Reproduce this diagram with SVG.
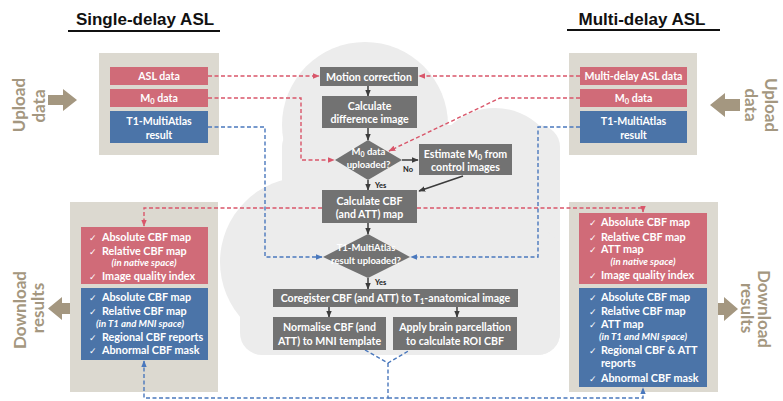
<svg xmlns="http://www.w3.org/2000/svg" width="783" height="401" viewBox="0 0 783 401">
<defs>
<style>
.panel{fill:#dcd9d0}
.red{fill:#d06b78}
.blue{fill:#4b74a8}
.node{fill:#727272}
.cloud{fill:#ececec}
.t{font-family:Lato,'Open Sans',sans-serif;font-weight:bold;fill:#fff;font-size:10.6px;text-anchor:middle}
.d{font-size:9.5px}
.li{font-family:Lato,'Open Sans',sans-serif;font-weight:bold;fill:#fff;font-size:10.8px}
.it{font-family:Lato,'Open Sans',sans-serif;font-weight:bold;font-style:italic;fill:#fff;font-size:9.6px;text-anchor:middle}
.ck{font-family:'DejaVu Sans',sans-serif;font-size:9px;fill:#fff}
.side{font-family:Lato,'Open Sans',sans-serif;font-weight:bold;font-size:17px;fill:#a49780;text-anchor:middle}
.title{font-family:'Liberation Sans',Arial,sans-serif;font-weight:bold;font-size:17px;fill:#111;text-anchor:middle}
.lbl{font-family:Lato,'Open Sans',sans-serif;font-weight:bold;font-size:7.5px;fill:#222}
.rd{stroke:#d9566a;stroke-width:1.4;stroke-dasharray:4 2.5;fill:none}
.bd{stroke:#4a78bd;stroke-width:1.4;stroke-dasharray:4 2.5;fill:none}
.dk{stroke:#3c3c3c;stroke-width:1.5;fill:none}
.tan{fill:#a49780}
</style>
<marker id="ar" viewBox="0 0 10 10" refX="9" refY="5" markerWidth="7" markerHeight="7" orient="auto" markerUnits="userSpaceOnUse"><path d="M0,1 L10,5 L0,9 z" fill="#d9566a"/></marker>
<marker id="ab" viewBox="0 0 10 10" refX="9" refY="5" markerWidth="7" markerHeight="7" orient="auto" markerUnits="userSpaceOnUse"><path d="M0,1 L10,5 L0,9 z" fill="#4a78bd"/></marker>
<marker id="ad" viewBox="0 0 10 10" refX="9" refY="5" markerWidth="7" markerHeight="7" orient="auto" markerUnits="userSpaceOnUse"><path d="M0,1 L10,5 L0,9 z" fill="#3c3c3c"/></marker>
</defs>
<rect width="783" height="401" fill="#fff"/>

<g id="cloud" class="cloud">
<circle cx="365" cy="125" r="83"/>
<circle cx="495" cy="173" r="65"/>
<circle cx="305" cy="262" r="85"/>
<rect x="282" y="125" width="278" height="230" rx="22"/>
<rect x="240" y="230" width="320" height="125" rx="22"/>
</g>

<g id="titles">
<text class="title" x="145" y="25">Single-delay ASL</text>
<rect x="68" y="30" width="152" height="2" fill="#111"/>
<text class="title" x="642" y="25">Multi-delay ASL</text>
<rect x="567" y="29" width="153" height="2" fill="#111"/>
</g>

<g id="upload-left">
<text class="side" transform="translate(25,105) rotate(-90)">Upload</text>
<text class="side" transform="translate(45,106) rotate(-90)">data</text>
<path class="tan" d="M48,95 H63 V89 L77,100 L63,111 V105 H48 Z"/>
</g>
<g id="upload-right">
<text class="side" transform="translate(765,105) rotate(90)">Upload</text>
<text class="side" transform="translate(745,105) rotate(90)">data</text>
<path class="tan" d="M740,99 H725 V93 L710,105 L725,117 V111 H740 Z"/>
</g>
<g id="download-left">
<text class="side" transform="translate(26,310) rotate(-90)">Download</text>
<text class="side" transform="translate(44,308) rotate(-90)">results</text>
<path class="tan" d="M76,303 H62 V297 L48,308.5 L62,320 V314 H76 Z"/>
</g>
<g id="download-right">
<text class="side" transform="translate(758,309) rotate(90)">Download</text>
<text class="side" transform="translate(741,308) rotate(90)">results</text>
<path class="tan" d="M710,303 H724 V297 L738,309 L724,321 V315 H710 Z"/>
</g>

<g id="panel-upload-left">
<rect class="panel" x="99" y="53" width="120" height="102"/>
<rect class="red" x="110" y="67" width="98" height="18"/>
<text class="t" x="159" y="80">ASL data</text>
<rect class="red" x="110" y="89" width="98" height="18"/>
<text class="t" x="159" y="102">M<tspan font-size="7.5" dy="2">0</tspan><tspan dy="-2"> data</tspan></text>
<rect class="blue" x="110" y="111" width="98" height="32"/>
<text class="t" x="159" y="125">T1-MultiAtlas</text>
<text class="t" x="159" y="139">result</text>
</g>

<g id="panel-upload-right">
<rect class="panel" x="569" y="53" width="128" height="102"/>
<rect class="red" x="580" y="67" width="107" height="18"/>
<text class="t" x="633.5" y="80">Multi-delay ASL data</text>
<rect class="red" x="580" y="89" width="107" height="18"/>
<text class="t" x="633.5" y="102">M<tspan font-size="7.5" dy="2">0</tspan><tspan dy="-2"> data</tspan></text>
<rect class="blue" x="580" y="111" width="107" height="32"/>
<text class="t" x="633.5" y="125">T1-MultiAtlas</text>
<text class="t" x="633.5" y="139">result</text>
</g>

<g id="panel-download-left">
<rect class="panel" x="70" y="202" width="148" height="190"/>
<rect class="red" x="81" y="227" width="127" height="57"/>
<rect class="blue" x="81" y="288" width="127" height="72"/>
<text class="ck" x="89" y="241">✓</text><text class="li" x="102" y="241">Absolute CBF map</text>
<text class="ck" x="89" y="255">✓</text><text class="li" x="102" y="255">Relative CBF map</text>
<text class="it" x="144" y="266">(in native space)</text>
<text class="ck" x="89" y="280">✓</text><text class="li" x="102" y="280">Image quality index</text>
<text class="ck" x="89" y="301">✓</text><text class="li" x="102" y="301">Absolute CBF map</text>
<text class="ck" x="89" y="315">✓</text><text class="li" x="102" y="315">Relative CBF map</text>
<text class="it" x="140" y="327">(in T1 and MNI space)</text>
<text class="ck" x="89" y="341">✓</text><text class="li" x="102" y="341">Regional CBF reports</text>
<text class="ck" x="89" y="354">✓</text><text class="li" x="102" y="354">Abnormal CBF mask</text>
</g>

<g id="panel-download-right">
<rect class="panel" x="569" y="202" width="149" height="190"/>
<rect class="red" x="579" y="213" width="128" height="71"/>
<rect class="blue" x="579" y="288" width="128" height="99"/>
<text class="ck" x="589" y="226">✓</text><text class="li" x="601" y="226">Absolute CBF map</text>
<text class="ck" x="589" y="241">✓</text><text class="li" x="601" y="241">Relative CBF map</text>
<text class="ck" x="589" y="253">✓</text><text class="li" x="601" y="253">ATT map</text>
<text class="it" x="643" y="265">(in native space)</text>
<text class="ck" x="589" y="279">✓</text><text class="li" x="601" y="279">Image quality index</text>
<text class="ck" x="589" y="301">✓</text><text class="li" x="601" y="301">Absolute CBF map</text>
<text class="ck" x="589" y="315">✓</text><text class="li" x="601" y="315">Relative CBF map</text>
<text class="ck" x="589" y="328">✓</text><text class="li" x="601" y="328">ATT map</text>
<text class="it" x="643" y="340">(in T1 and MNI space)</text>
<text class="ck" x="589" y="354">✓</text><text class="li" x="601" y="354">Regional CBF &amp; ATT</text>
<text class="li" x="601" y="367">reports</text>
<text class="ck" x="589" y="382">✓</text><text class="li" x="601" y="382">Abnormal CBF mask</text>
</g>

<g id="connectors">
<path class="rd" d="M208,76 H319" marker-end="url(#ar)"/>
<path class="rd" d="M580,76 H419" marker-end="url(#ar)"/>
<path class="rd" d="M208,98 H301 V160 H334" marker-end="url(#ar)"/>
<path class="rd" d="M580,98 H500 L389,151" marker-end="url(#ar)"/>
<path class="rd" d="M322,208 H144 V226" marker-end="url(#ar)"/>
<path class="rd" d="M417,208 H643 V212" marker-end="url(#ar)"/>
<path class="bd" d="M208,127 H265 V257 H322" marker-end="url(#ab)"/>
<path class="bd" d="M580,127 H538 V257 H411" marker-end="url(#ab)"/>
<path class="bd" d="M365,350 L388,363 L410,350"/>
<path class="bd" d="M388,363 V398 H144 V361" marker-end="url(#ab)"/>
<path class="bd" d="M388,398 H643 V388" marker-end="url(#ab)"/>
<path class="dk" d="M368,86 V96" marker-end="url(#ad)"/>
<path class="dk" d="M368,128 V140" marker-end="url(#ad)"/>
<path class="dk" d="M402,160 H418" marker-end="url(#ad)"/>
<path class="dk" d="M463,176 L419,191" marker-end="url(#ad)"/>
<path class="dk" d="M368,180 V190" marker-end="url(#ad)"/>
<path class="dk" d="M368,223 V234" marker-end="url(#ad)"/>
<path class="dk" d="M368,278 V289" marker-end="url(#ad)"/>
<path class="dk" d="M329,307 V317" marker-end="url(#ad)"/>
<path class="dk" d="M457,307 V317" marker-end="url(#ad)"/>
<text class="lbl" x="403" y="172">No</text>
<text class="lbl" x="375" y="188">Yes</text>
<text class="lbl" x="375" y="285">Yes</text>
</g>

<g id="motion-correction">
<rect class="node" x="320" y="67" width="98" height="19"/>
<text class="t" x="369" y="80.5">Motion correction</text>
</g>
<g id="difference-image">
<rect class="node" x="322" y="96" width="95" height="32"/>
<text class="t" x="369.5" y="110">Calculate</text>
<text class="t" x="369.5" y="123">difference image</text>
</g>
<g id="m0-uploaded">
<polygon class="node" points="368,140 402,160 368,180 335,160"/>
<text class="t d" x="368.5" y="155">M<tspan font-size="7" dy="2">0</tspan><tspan dy="-2"> data</tspan></text>
<text class="t d" x="368.5" y="168">uploaded?</text>
</g>
<g id="estimate-m0">
<rect class="node" x="419" y="144" width="93" height="31"/>
<text class="t" x="465.5" y="158">Estimate M<tspan font-size="7.5" dy="2">0</tspan><tspan dy="-2"> from</tspan></text>
<text class="t" x="465.5" y="171">control images</text>
</g>
<g id="calculate-cbf">
<rect class="node" x="322" y="190" width="95" height="33"/>
<text class="t" x="369.5" y="205">Calculate CBF</text>
<text class="t" x="369.5" y="218">(and ATT) map</text>
</g>
<g id="t1-uploaded">
<polygon class="node" points="368,234 410,257 368,278 323,257"/>
<text class="t d" x="366" y="251">T1-MultiAtlas</text>
<text class="t d" x="366" y="264">result uploaded?</text>
</g>
<g id="coregister">
<rect class="node" x="273" y="289" width="245" height="18"/>
<text class="t" x="395.5" y="302">Coregister CBF (and ATT) to T<tspan font-size="7.5" dy="2">1</tspan><tspan dy="-2">-anatomical image</tspan></text>
</g>
<g id="normalise">
<rect class="node" x="273" y="317" width="113" height="33"/>
<text class="t" x="329.5" y="331">Normalise CBF (and</text>
<text class="t" x="329.5" y="345">ATT) to MNI template</text>
</g>
<g id="parcellation">
<rect class="node" x="393" y="317" width="124" height="33"/>
<text class="t" x="455" y="331">Apply brain parcellation</text>
<text class="t" x="455" y="345">to calculate ROI CBF</text>
</g>
</svg>
